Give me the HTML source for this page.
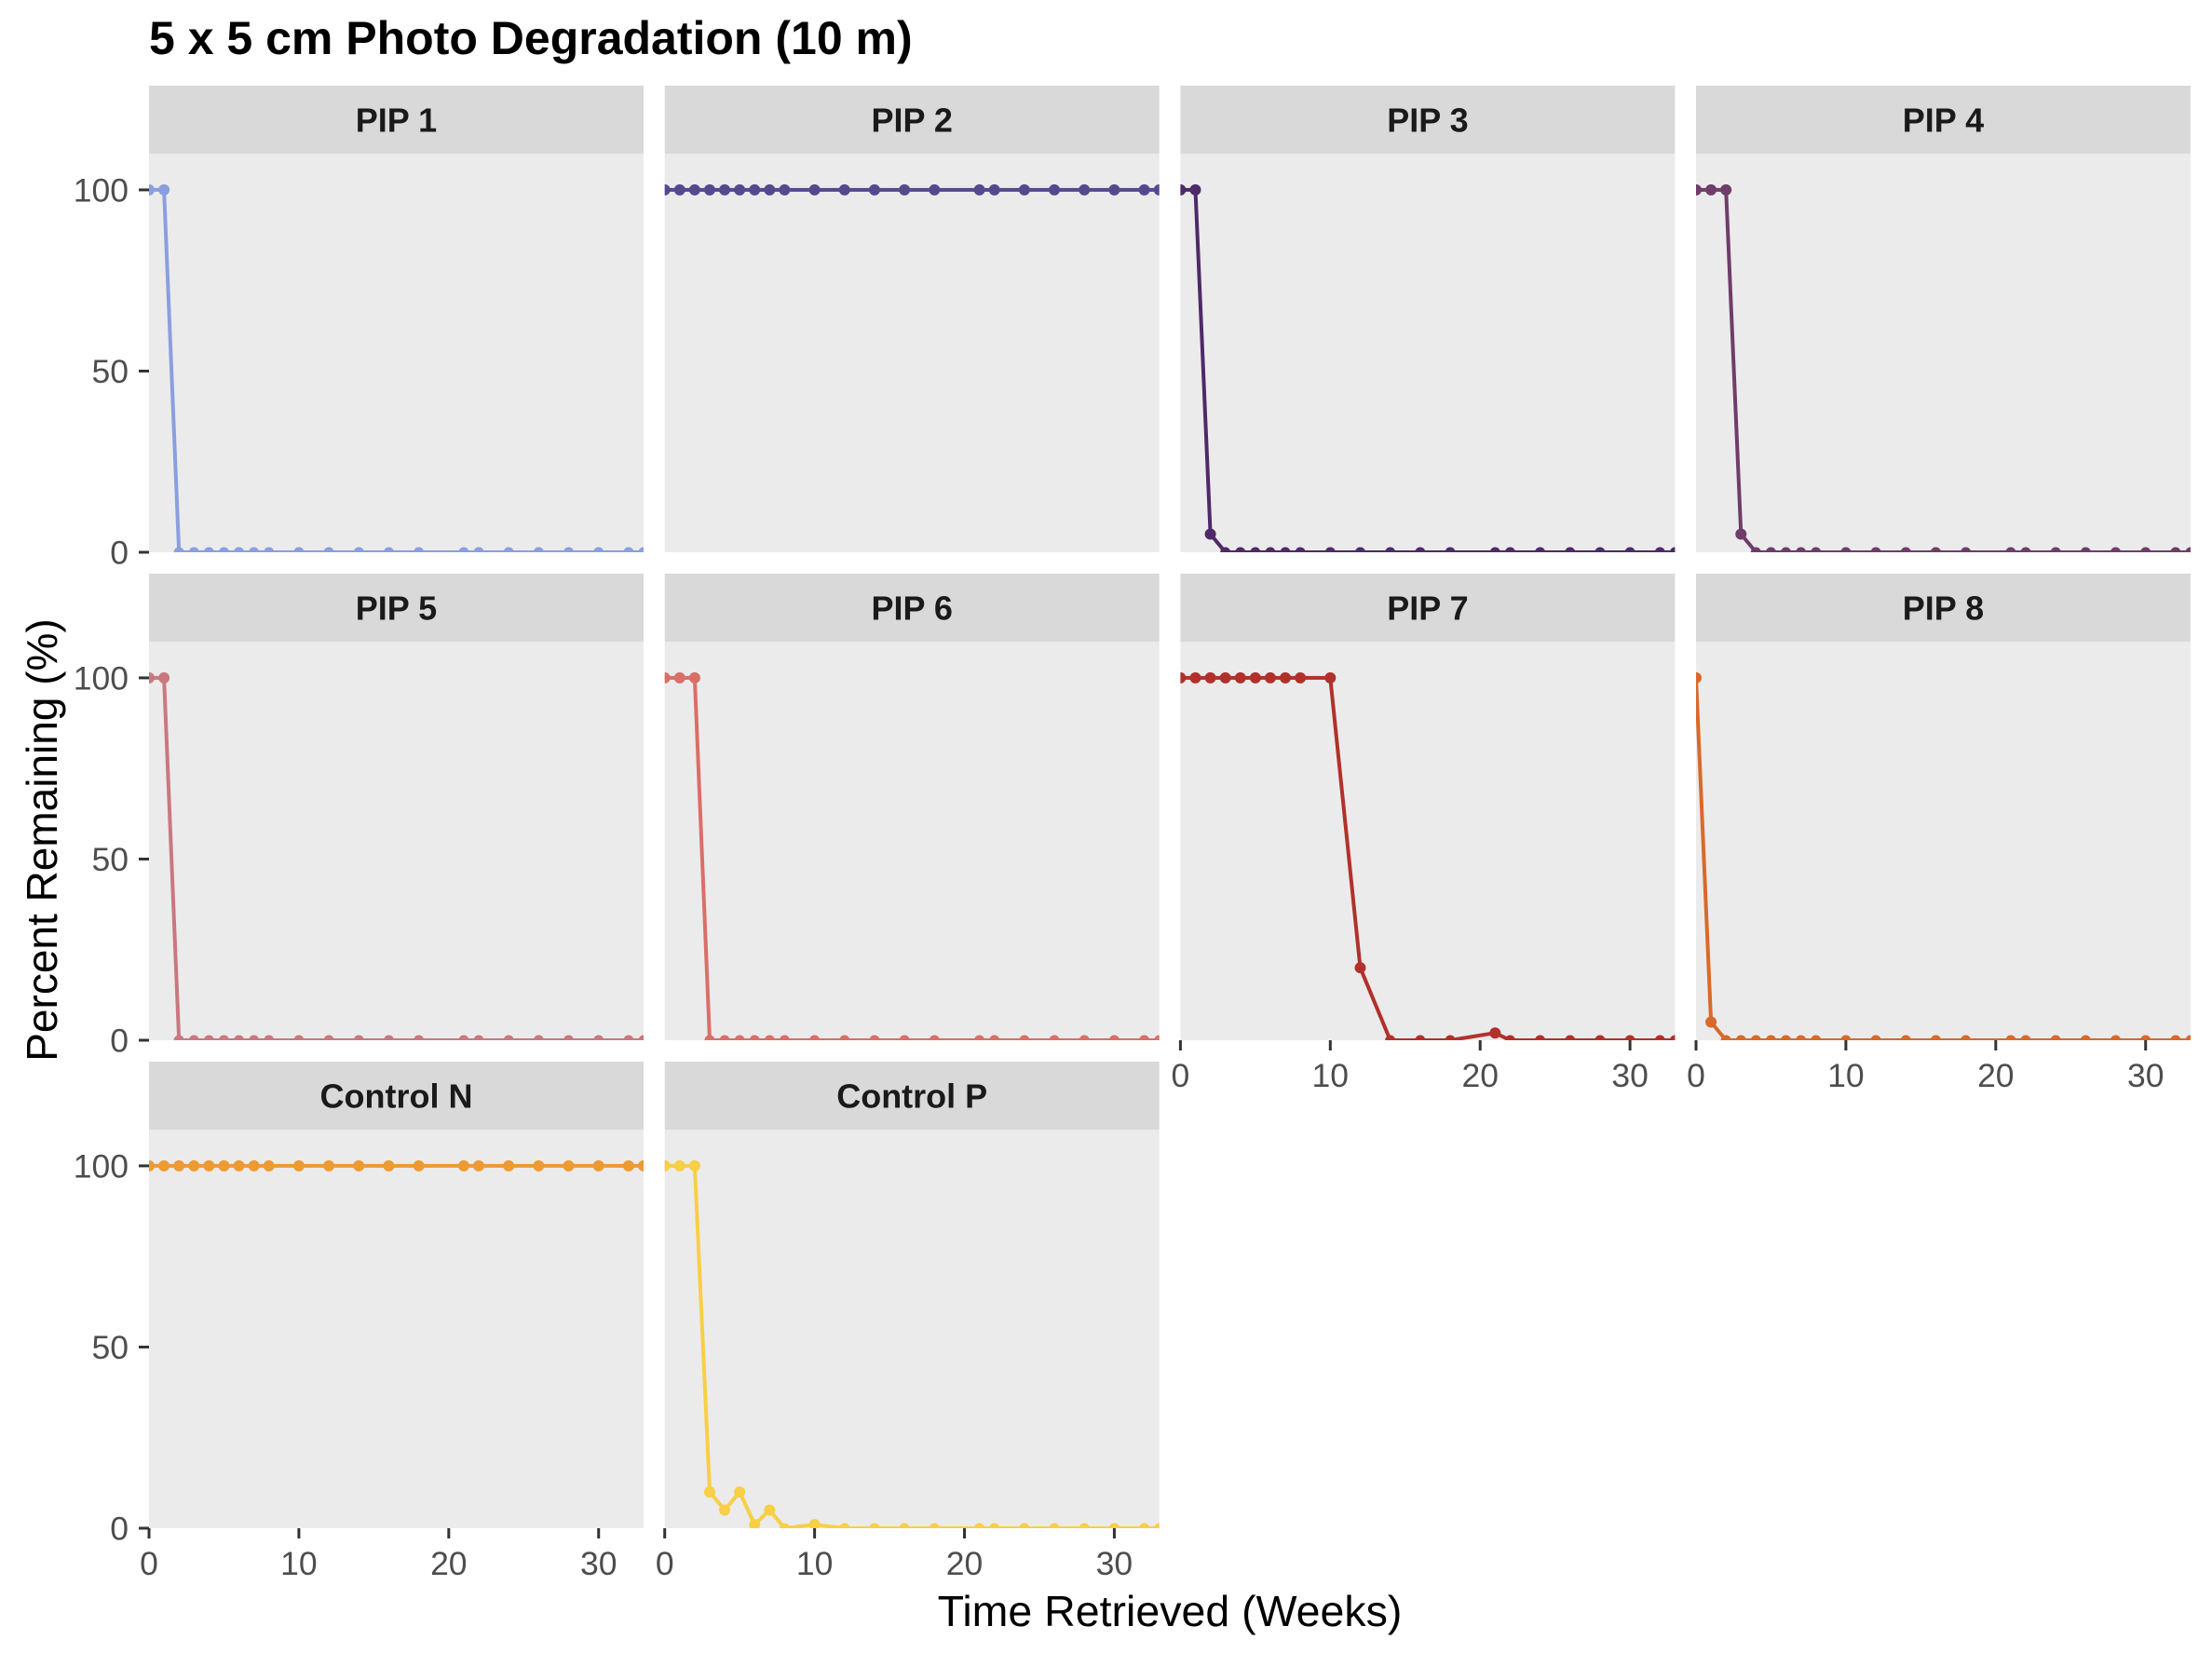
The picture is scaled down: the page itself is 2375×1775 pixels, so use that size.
<!DOCTYPE html>
<html><head><meta charset="utf-8"><style>
html,body{margin:0;padding:0;background:#fff;}
svg{display:block;font-family:"Liberation Sans",Arial,sans-serif;}
</style></head><body>
<svg id="chart" width="2375" height="1775" viewBox="0 0 2375 1775" xmlns="http://www.w3.org/2000/svg">
<rect width="2375" height="1775" fill="#fff"/>
<text x="160" y="58" font-size="50" font-weight="bold" fill="#000">5 x 5 cm Photo Degradation (10 m)</text>
<text x="1256" y="1746" font-size="46.5" text-anchor="middle" fill="#000">Time Retrieved (Weeks)</text>
<text transform="translate(61,902) rotate(-90)" font-size="46" text-anchor="middle" fill="#000">Percent Remaining (%)</text>
<g id="panels"></g>
</svg>
<script>
const weeks = [0,1,2,3,4,5,6,7,8,10,12,14,16,18,21,22,24,26,28,30,32,33];
const panelNames = ["PIP 1","PIP 2","PIP 3","PIP 4","PIP 5","PIP 6","PIP 7","PIP 8","Control N","Control P"];
const pip1 = [100,100,0,0,0,0,0,0,0,0,0,0,0,0,0,0,0,0,0,0,0,0];
const pip2 = [100,100,100,100,100,100,100,100,100,100,100,100,100,100,100,100,100,100,100,100,100,100];
const pip3 = [100,100,5,0,0,0,0,0,0,0,0,0,0,0,0,0,0,0,0,0,0,0];
const pip4 = [100,100,100,5,0,0,0,0,0,0,0,0,0,0,0,0,0,0,0,0,0,0];
const pip5 = [100,100,0,0,0,0,0,0,0,0,0,0,0,0,0,0,0,0,0,0,0,0];
const pip6 = [100,100,100,0,0,0,0,0,0,0,0,0,0,0,0,0,0,0,0,0,0,0];
const pip7 = [100,100,100,100,100,100,100,100,100,100,20,0,0,0,2,0,0,0,0,0,0,0];
const pip8 = [100,5,0,0,0,0,0,0,0,0,0,0,0,0,0,0,0,0,0,0,0,0];
const controlN = [100,100,100,100,100,100,100,100,100,100,100,100,100,100,100,100,100,100,100,100,100,100];
const controlP = [100,100,100,10,5,10,1,5,0,1,0,0,0,0,0,0,0,0,0,0,0,0];
const yTicks = [0,50,100];
const xTicks = [0,10,20,30];

const series = [pip1,pip2,pip3,pip4,pip5,pip6,pip7,pip8,controlN,controlP];
const colors = ["#8A9FDE","#534A8E","#4E2A69","#6F3D69","#C97880","#DA6E68","#B2302B","#D9692A","#EE9A33","#F8CF45"];
const NS = "http://www.w3.org/2000/svg";
const root = document.getElementById("panels");
const colLeft = [160,713.7,1267.4,1821];
const rowTop = [92,616,1140];
const PW = 531, SH = 73, PH = 428;
const XMAX = 33, YMAX = 110;

function mk(tag, attrs, parent){
  const e = document.createElementNS(NS, tag);
  for (const k in attrs) e.setAttribute(k, attrs[k]);
  parent.appendChild(e);
  return e;
}

series.forEach((vals, i) => {
  const r = Math.floor(i/4), c = i%4;
  const x0 = colLeft[c], st = rowTop[r], pt = st + SH, pb = pt + PH;
  const xs = v => x0 + v / XMAX * PW;
  const ys = v => pb - v / YMAX * PH;
  const g = mk("g", {}, root);
  
  
  const strip = mk("rect", {x:x0, y:st, width:PW, height:SH, fill:"#D9D9D9"}, g);
  
  
  const st_t = mk("text", {x:x0+PW/2, y:st+SH/2+13, "font-size":36, "font-weight":"bold", "text-anchor":"middle", fill:"#1A1A1A"}, g);
  st_t.textContent = panelNames[i];
  
  
  const bg = mk("rect", {x:x0, y:pt, width:PW, height:PH, fill:"#EBEBEB"}, g);
  
  
  const cid = "clip" + i;
  const cp = mk("clipPath", {id:cid}, g);
  mk("rect", {x:x0, y:pt, width:PW, height:PH}, cp);
  const dg = mk("g", {"clip-path":"url(#"+cid+")"}, g);
  const pts = weeks.map((w,k) => xs(w).toFixed(1)+","+ys(vals[k]).toFixed(1)).join(" ");
  const line = mk("polyline", {points:pts, fill:"none", stroke:colors[i], "stroke-width":4, "stroke-linejoin":"round"}, dg);
  
  
  weeks.forEach((w,k) => {
    const big = vals[k] > 0;
    const p = mk("circle", {cx:xs(w), cy:ys(vals[k]), r: big ? 6 : 5.5, fill:colors[i]}, dg);
    
    
  });
  if (c === 0) {
    yTicks.forEach(t => {
      const y = ys(t);
      const tm = mk("line", {x1:x0-11, x2:x0, y1:y, y2:y, stroke:"#333", "stroke-width":3}, g);
      
      
      const tl = mk("text", {x:x0-22, y:y+12.5, "font-size":35.5, "text-anchor":"end", fill:"#4D4D4D"}, g);
      tl.textContent = t;
      
      
    });
  }
  if (i >= 6) {
    xTicks.forEach(t => {
      const x = xs(t);
      const tm = mk("line", {x1:x, x2:x, y1:pb, y2:pb+11, stroke:"#333", "stroke-width":3}, g);
      
      
      const tl = mk("text", {x:x, y:pb+50, "font-size":35.5, "text-anchor":"middle", fill:"#4D4D4D"}, g);
      tl.textContent = t;
      
      
    });
  }
});
</script>
</body></html>
